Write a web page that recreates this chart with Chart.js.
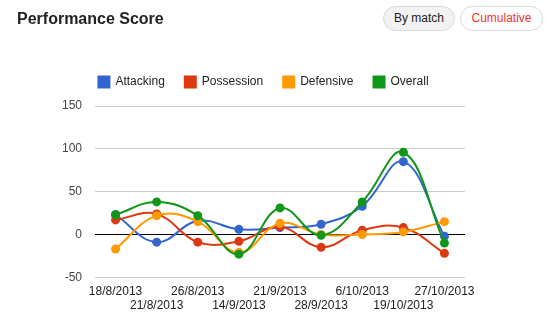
<!DOCTYPE html>
<html>
<head>
<meta charset="utf-8">
<script src="https://cdn.jsdelivr.net/npm/chart.js@4"></script>
<style>
    body { margin: 0; background: #fff; font-family: Arial, "Liberation Sans", sans-serif; }
    .page { position: relative; width: 557px; height: 326px; overflow: hidden; }
    .title { position: absolute; left: 17px; top: 9px; font-size: 16px; line-height: 20px; font-weight: bold; color: #222; }
    .btn { position: absolute; top: 6px; height: 25px; box-sizing: border-box; border: 1px solid #d9d9d9; border-radius: 13px;
           font-size: 12px; line-height: 23px; text-align: center; }
    .btn-match { left: 383px; width: 72px; background: #f2f2f2; color: #222; }
    .btn-cum { left: 460px; width: 83px; background: #fff; color: #f2361d; }
    .chart-wrap { position: absolute; left: 0; top: 0; width: 557px; height: 326px; }
</style>
</head>
<body>
<div class="page">
    <div class="chart-wrap"><canvas id="score-chart"></canvas></div>
    <div class="title">Performance Score</div>
    <div class="btn btn-match">By match</div>
    <div class="btn btn-cum">Cumulative</div>
</div>
<script>
// match dates (x axis)
const matchDates = ['18/8/2013', '21/8/2013', '26/8/2013', '14/9/2013', '21/9/2013',
                    '28/9/2013', '6/10/2013', '19/10/2013', '27/10/2013'];

// score series
const attacking  = [23, -9, 16, 6, 8, 12, 33, 85, -2];
const possession = [17, 24, -9, -8, 9, -15, 5, 8, -22];
const defensive  = [-17, 22, 15, -21, 13, 0, 0, 3, 15];
const overall    = [23, 38, 22, -23, 31, -1, 38, 96, -10];

// y axis
const yMin = -50, yMax = 150, yStep = 50;

const FONT = 'Arial, "Liberation Sans", sans-serif';

function series(label, data, color, order) {
    return {
        label, data, order,
        borderColor: color,
        backgroundColor: color,
        borderWidth: 2,
        pointRadius: 4.5,
        pointBorderWidth: 0,
        tension: 0.4,
        fill: false
    };
}

// leave a bit more room under the legend
const legendGap = {
    id: 'legendGap',
    beforeInit(chart) {
        const fit = chart.legend.fit;
        chart.legend.fit = function () {
            fit.bind(chart.legend)();
            this.height += 8;
        };
    }
};

new Chart(document.getElementById('score-chart'), {
    type: 'line',
    data: {
        labels: matchDates,
        datasets: [
            series('Attacking', attacking, '#3366cc', 3),
            series('Possession', possession, '#dc3912', 2),
            series('Defensive', defensive, '#ff9900', 1),
            series('Overall', overall, '#109618', 0)
        ]
    },
    options: {
        responsive: true,
        maintainAspectRatio: false,
        animation: false,
        layout: { padding: { left: 62, right: 92, top: 56, bottom: 0 } },
        plugins: {
            tooltip: { enabled: false },
            legend: {
                position: 'top',
                align: 'center',
                labels: {
                    boxWidth: 11,
                    boxHeight: 11,
                    padding: 20,
                    color: '#222',
                    font: { family: FONT, size: 12 },
                    sort: (a, b) => a.datasetIndex - b.datasetIndex
                }
            }
        },
        scales: {
            x: {
                offset: true,
                grid: { display: false, drawTicks: false },
                border: { display: false },
                ticks: {
                    autoSkip: false,
                    maxRotation: 0,
                    padding: 7,
                    color: '#222',
                    font: { family: FONT, size: 12 },
                    callback: (v, i) => i % 2 === 0 ? matchDates[i] : ['', matchDates[i]]
                },
                afterFit: s => { s.height = 48.7; }
            },
            y: {
                min: yMin,
                max: yMax,
                grid: {
                    drawTicks: false,
                    color: c => c.tick && c.tick.value === 0 ? '#000' : '#ccc'
                },
                border: { display: false },
                ticks: {
                    stepSize: yStep,
                    padding: 13,
                    color: '#444',
                    font: { family: FONT, size: 12 }
                },
                afterFit: s => { s.width = 33; }
            }
        }
    },
    plugins: [legendGap]
});
</script>
</body>
</html>
